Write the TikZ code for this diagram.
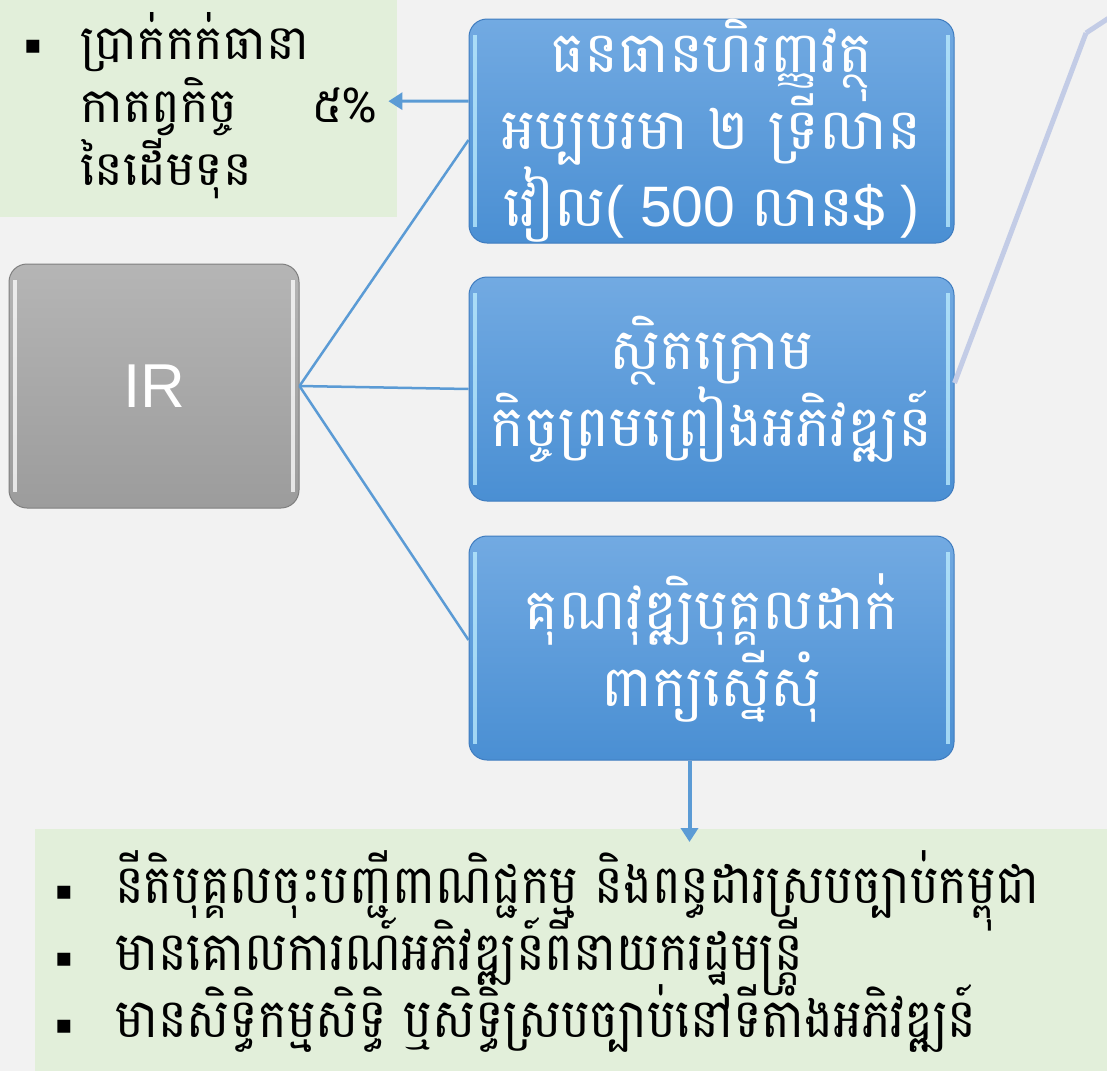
\documentclass[tikz,border=0pt]{standalone}
\usepackage{fontspec}
\setmainfont{Liberation Sans}
\newfontfamily\khmer[Script=Khmer]{Battambang}
\newfontfamily\dejavu{DejaVu Sans}
\usetikzlibrary{arrows.meta}
\definecolor{bg}{HTML}{F2F2F2}
\definecolor{greenbox}{HTML}{E2EFDA}
\definecolor{bluetop}{HTML}{72AAE2}
\definecolor{bluebot}{HTML}{4A8FD3}
\definecolor{blueedge}{HTML}{3F7CBF}
\definecolor{bluehl}{HTML}{BFEFFF}
\definecolor{link}{HTML}{5B9BD5}
\definecolor{deco}{HTML}{C3CCE6}
\definecolor{graytop}{HTML}{B5B5B5}
\definecolor{graybot}{HTML}{9C9C9C}
\definecolor{grayedge}{HTML}{7F7F7F}
\newcommand{\nolsk}{\lineskiplimit=-200pt\relax}
\tikzset{
  bevel/.style={path picture={
    \draw[#1, opacity=.75, line width=4pt]
      ([xshift=6pt,yshift=-16pt]path picture bounding box.north west) --
      ([xshift=6pt,yshift=16pt]path picture bounding box.south west);
    \draw[#1, opacity=.75, line width=4pt]
      ([xshift=-6pt,yshift=-16pt]path picture bounding box.north east) --
      ([xshift=-6pt,yshift=16pt]path picture bounding box.south east);}},
  bluebox/.style={draw=blueedge, line width=1pt, rounded corners=18pt,
    top color=bluetop, bottom color=bluebot, bevel=bluehl,
    minimum width=485pt, minimum height=224pt, inner sep=0pt,
    text=white, align=center,
    font=\khmer\fontsize{57}{77}\selectfont\nolsk},
  graybox/.style={draw=grayedge, line width=1pt, rounded corners=18pt,
    top color=graytop, bottom color=graybot, bevel=white,
    minimum width=290pt, minimum height=244pt, inner sep=0pt,
    text=white, font=\fontsize{62}{64}\selectfont},
  greenrect/.style={fill=greenbox, inner sep=0pt, anchor=north west},
  linkline/.style={draw=link, line width=2.5pt},
  linkarrow/.style={draw=link, -{Triangle[length=14pt,width=17pt]}},
  decoline/.style={draw=deco, line width=5pt}
}
\newcommand{\bulmark}{{\dejavu\fontsize{26}{26}\selectfont ▪}}
\newcommand{\botline}[1]{\makebox[60pt][l]{\raisebox{4pt}{\bulmark}}\scalebox{0.89}[1]{#1}}
\begin{document}
\begin{tikzpicture}[x=1pt,y=-1pt]
\fill[bg] (0,0) rectangle (1107,1071);
\useasboundingbox (0,0) rectangle (1107,1071);

% top-left green box
\node[greenrect, minimum width=397pt, minimum height=217pt] (tl) at (0,0) {};
\node[anchor=north west, inner sep=0pt, text=black] (tltext) at (24,12)
  {\parbox[t]{353pt}{\khmer\fontsize{48}{63}\selectfont\nolsk
   \makebox[56pt][l]{\raisebox{6pt}{\bulmark}}ប្រាក់កក់ធានា\\
   \hspace*{56pt}កាតព្វកិច្ច\hfill ៥\%\\
   \hspace*{56pt}នៃដើមទុន}};

% bottom green box
\node[greenrect, minimum width=1072pt, minimum height=242pt] (bot) at (35,829) {};
\node[anchor=north west, inner sep=0pt, text=black] (bottext) at (55,850)
  {\parbox[t]{1100pt}{\khmer\fontsize{54}{67}\selectfont\nolsk
   \botline{នីតិបុគ្គលចុះបញ្ជីពាណិជ្ជកម្ម និងពន្ធដារស្របច្បាប់កម្ពុជា}\\
   \botline{មានគោលការណ៍អភិវឌ្ឍន៍ពីនាយករដ្ឋមន្ត្រី}\\
   \botline{មានសិទ្ធិកម្មសិទ្ធិ ឬសិទ្ធិស្របច្បាប់នៅទីតាំងអភិវឌ្ឍន៍}}};

% IR box
\node[graybox] (ir) at (154,386) {IR};

% blue boxes
\node[bluebox] (b1) at (711.5,131)
  {ធនធានហិរញ្ញវត្ថុ\\អប្បបរមា ២ ទ្រីលាន\\វៀល{\fontspec{Liberation Sans}( 500 }លាន{\fontspec{Liberation Sans}\$ )}};
\node[bluebox] (b2) at (711.5,389) {ស្ថិតក្រោម\\កិច្ចព្រមព្រៀងអភិវឌ្ឍន៍};
\node[bluebox] (b3) at (711.5,648) {គុណវុឌ្ឍិបុគ្គលដាក់\\ពាក្យស្នើសុំ};

% connectors
\draw[linkline] (ir.east) -- ([yshift=-9pt]b1.west);
\draw[linkline] (ir.east) -- (b2.west);
\draw[linkline] (ir.east) -- ([yshift=8pt]b3.west);
\draw[linkarrow, line width=3pt] ([yshift=30pt]b1.west) -- ([xshift=-9pt,yshift=7.5pt]tl.east);
\draw[linkarrow, line width=4pt, shorten >=-13pt] ([xshift=-22pt]b3.south) -- ([xshift=-22pt]b3.south |- bot.north);

% decorative line
\coordinate (d1) at (1086,33);
\coordinate (d2) at (1115,14);
\draw[decoline] ([yshift=6pt]b2.east) -- (d1);
\draw[decoline] (d1) -- (d2);
\end{tikzpicture}
\end{document}
